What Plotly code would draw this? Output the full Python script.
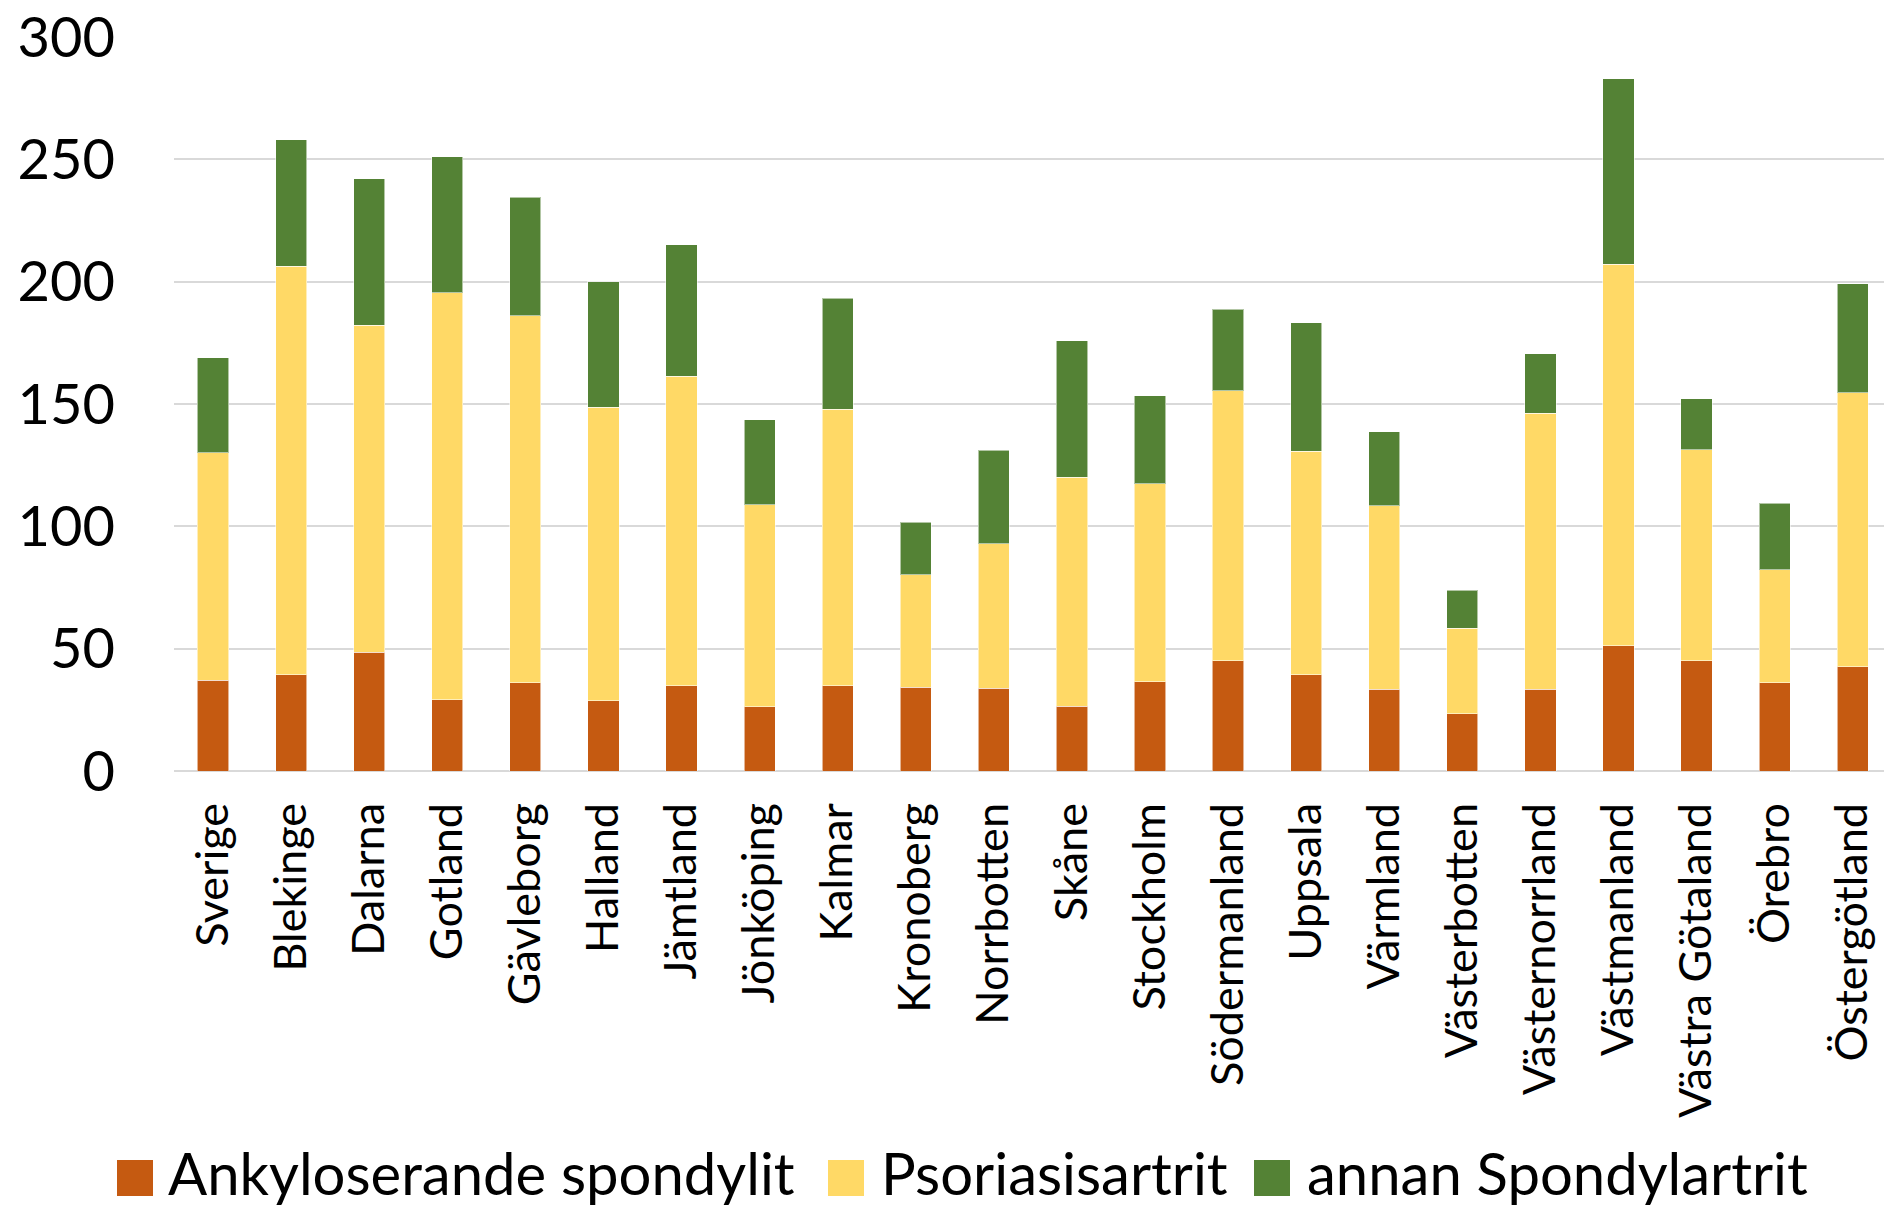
import plotly.graph_objects as go

categories = ["Sverige", "Blekinge", "Dalarna", "Gotland", "Gävleborg", "Halland", "Jämtland",
              "Jönköping", "Kalmar", "Kronoberg", "Norrbotten", "Skåne", "Stockholm",
              "Södermanland", "Uppsala", "Värmland", "Västerbotten", "Västernorrland",
              "Västmanland", "Västra Götaland", "Örebro", "Östergötland"]

ankyloserande = [37, 39.3, 48.6, 29.1, 36.0, 28.7, 34.9, 26.2, 34.9, 34.2, 33.8, 26.4, 36.4,
                 45.0, 39.3, 33.4, 23.4, 33.4, 51.2, 45.1, 36.0, 42.7]
psoriasis = [93, 167.0, 133.6, 166.3, 150.1, 120.0, 126.4, 82.6, 112.9, 46.1, 59.1, 93.7, 81.1,
             110.4, 91.3, 75.0, 35.0, 112.8, 156.0, 86.2, 46.3, 111.9]
annan = [39, 51.7, 59.8, 55.7, 48.5, 51.3, 53.8, 34.8, 45.4, 21.3, 38.1, 55.7, 35.8,
         33.3, 52.7, 30.2, 15.4, 24.4, 75.7, 20.9, 27.2, 44.6]

series_names = ["Ankyloserande spondylit", "Psoriasisartrit", "annan Spondylartrit"]
series_colors = ["#C55A11", "#FFD966", "#548235"]
y_ticks = [0, 50, 100, 150, 200, 250, 300]

FONT = "Lato, 'Open Sans', sans-serif"

fig = go.Figure()
for name, vals, col in zip(series_names, [ankyloserande, psoriasis, annan], series_colors):
    fig.add_trace(go.Bar(
        x=categories, y=vals, name=name,
        marker=dict(color=col, line=dict(color="rgba(255,255,255,0.55)", width=1)),
        showlegend=False,
    ))

# custom legend (large square swatches like the original)
W_L, W_R, H_T, H_B = 174, 0, 37, 440
PW = 1884 - W_L - W_R
PH = 1211 - H_T - H_B

def px_x(px):
    return (px - W_L) / PW

def px_y(py):
    return (1211 - H_B - py) / PH

legend_swatch_x = [117, 828, 1254]
legend_text_x = [166, 879, 1305]
legend_y = 1178
for name, col, sx, tx in zip(series_names, series_colors, legend_swatch_x, legend_text_x):
    fig.add_shape(type="rect", xref="paper", yref="paper",
                  x0=px_x(sx), x1=px_x(sx + 36), y0=px_y(legend_y + 18), y1=px_y(legend_y - 18),
                  fillcolor=col, line=dict(width=0))
    fig.add_annotation(xref="paper", yref="paper", x=px_x(tx), y=px_y(legend_y - 6),
                       xanchor="left", yanchor="middle", showarrow=False, text=name,
                       font=dict(family=FONT, size=58, color="#000000"))

fig.update_layout(
    width=1884, height=1211,
    margin=dict(l=W_L, r=W_R, t=H_T, b=H_B, pad=0),
    barmode="stack", bargap=0.6,
    plot_bgcolor="white", paper_bgcolor="white",
    font=dict(family=FONT, color="#000000"),
)
fig.update_xaxes(
    type="category", range=[-0.5, 21.4], tickangle=-90,
    tickfont=dict(family=FONT, size=45, color="#000000"),
    showgrid=False, ticks="", ticklabelstandoff=22,
    showline=False, automargin=False,
)
fig.update_yaxes(
    range=[0, 300], tickvals=y_ticks, ticktext=[str(v) for v in y_ticks],
    tickfont=dict(family=FONT, size=56, color="#000000"),
    showgrid=True, gridcolor="#D9D9D9", gridwidth=2,
    zeroline=True, zerolinecolor="#D9D9D9", zerolinewidth=2,
    ticks="", ticklabelstandoff=58, automargin=False,
)

fig.write_html("out.html", config={"displayModeBar": False},
               post_script="document.body.style.margin='0';document.body.style.overflow='hidden';")
